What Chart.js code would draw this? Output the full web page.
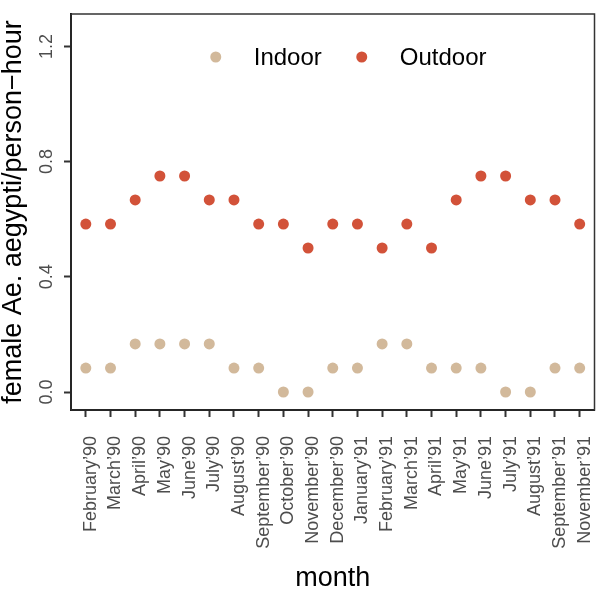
<!DOCTYPE html>
<html>
<head>
<meta charset="utf-8">
<script src="https://cdn.jsdelivr.net/npm/chart.js@4.4.1/dist/chart.umd.min.js"></script>
<style>
  html, body { margin: 0; padding: 0; background: #fff; }
  #wrap { width: 600px; height: 589px; position: relative; }
</style>
</head>
<body>
<div id="wrap"><canvas id="chart"></canvas></div>
<script>
const months = ["February\u201990", "March\u201990", "April\u201990", "May\u201990", "June\u201990", "July\u201990",
  "August\u201990", "September\u201990", "October\u201990", "November\u201990", "December\u201990", "January\u201991",
  "February\u201991", "March\u201991", "April\u201991", "May\u201991", "June\u201991", "July\u201991", "August\u201991",
  "September\u201991", "November\u201991"];
const indoor = [0.083, 0.083, 0.167, 0.167, 0.167, 0.167, 0.083, 0.083, 0, 0, 0.083, 0.083,
  0.167, 0.167, 0.083, 0.083, 0.083, 0, 0, 0.083, 0.083];
const outdoor = [0.583, 0.583, 0.667, 0.75, 0.75, 0.667, 0.667, 0.583, 0.583, 0.5, 0.583, 0.583,
  0.5, 0.583, 0.5, 0.667, 0.75, 0.75, 0.667, 0.667, 0.583];
const yTicks = [0, 0.4, 0.8, 1.2];

const colors = { indoor: '#D2B99B', outdoor: '#D25239' };
const tickGrey = '#4D4D4D';
const FONT = "'Liberation Sans', Arial, sans-serif";

const toPoints = vals => vals.map((v, i) => ({ x: i, y: v }));

// y tick labels are vertical in the original, Chart.js can't rotate them
const panelDecor = {
    id: 'panelDecor',
    afterDraw(chart) {
        const ctx = chart.ctx;
        const area = chart.chartArea;
        const y = chart.scales.y;

        ctx.save();
        ctx.strokeStyle = '#333';
        ctx.lineWidth = 1.5;
        ctx.strokeRect(area.left, area.top, area.right - area.left, area.bottom - area.top);

        ctx.fillStyle = tickGrey;
        ctx.font = '18px ' + FONT;
        ctx.textAlign = 'center';
        ctx.textBaseline = 'alphabetic';
        yTicks.forEach(v => {
            ctx.save();
            ctx.translate(area.left - 19, y.getPixelForValue(v));
            ctx.rotate(-Math.PI / 2);
            ctx.fillText(v.toFixed(1), 0, 0);
            ctx.restore();
        });

        // legend inside the panel
        const cx = (area.left + area.right) / 2;
        const ly = area.top + 43;
        ctx.font = '24px ' + FONT;
        ctx.textAlign = 'left';
        ctx.textBaseline = 'middle';
        const items = [
            { ds: chart.data.datasets[0], x: cx - 117 },
            { ds: chart.data.datasets[1], x: cx + 29 }
        ];
        items.forEach(it => {
            ctx.fillStyle = it.ds.backgroundColor;
            ctx.beginPath();
            ctx.arc(it.x, ly, 5.5, 0, Math.PI * 2);
            ctx.fill();
            ctx.fillStyle = '#000';
            ctx.fillText(it.ds.label, it.x + 38, ly + 1);
        });
        ctx.restore();
    }
};

new Chart(document.getElementById('chart'), {
    type: 'scatter',
    data: {
        datasets: [
            {
                label: 'Indoor',
                data: toPoints(indoor),
                backgroundColor: colors.indoor,
                borderWidth: 0,
                pointRadius: 5.5,
                pointHoverRadius: 5.5
            },
            {
                label: 'Outdoor',
                data: toPoints(outdoor),
                backgroundColor: colors.outdoor,
                borderWidth: 0,
                pointRadius: 5.5,
                pointHoverRadius: 5.5
            }
        ]
    },
    options: {
        responsive: true,
        maintainAspectRatio: false,
        animation: false,
        layout: { padding: { top: 14, right: 2.5, left: 0, bottom: 0 } },
        scales: {
            x: {
                type: 'linear',
                min: -0.6,
                max: months.length - 1 + 0.6,
                afterBuildTicks: scale => {
                    scale.ticks = months.map((m, i) => ({ value: i }));
                },
                afterFit: scale => {
                    scale.height = 179;
                    scale.paddingLeft = 0;
                    scale.paddingRight = 0;
                },
                ticks: {
                    callback: v => months[v],
                    minRotation: 90,
                    maxRotation: 90,
                    autoSkip: false,
                    padding: 19,
                    labelOffset: 5,
                    color: tickGrey,
                    font: { family: FONT, size: 18 }
                },
                grid: {
                    drawOnChartArea: false,
                    drawTicks: true,
                    tickLength: 7,
                    tickWidth: 2,
                    tickColor: '#333'
                },
                border: { display: true, color: '#000', width: 2 },
                title: {
                    display: true,
                    text: 'month',
                    color: '#000',
                    font: { family: FONT, size: 27, lineHeight: 0.8 },
                    padding: 0
                }
            },
            y: {
                min: -0.0625,
                max: 1.3125,
                afterBuildTicks: scale => {
                    scale.ticks = yTicks.map(v => ({ value: v }));
                },
                afterFit: scale => { scale.width = 71; },
                ticks: { display: false },
                grid: {
                    drawOnChartArea: false,
                    drawTicks: true,
                    tickLength: 7,
                    tickWidth: 2,
                    tickColor: '#333'
                },
                border: { display: true, color: '#000', width: 2 },
                title: {
                    display: true,
                    text: 'female Ae. aegypti/person\u2212hour',
                    color: '#000',
                    font: { family: FONT, size: 27, lineHeight: 1 },
                    padding: 0
                }
            }
        },
        plugins: {
            legend: { display: false },
            tooltip: { enabled: false }
        }
    },
    plugins: [panelDecor]
});
</script>
</body>
</html>
